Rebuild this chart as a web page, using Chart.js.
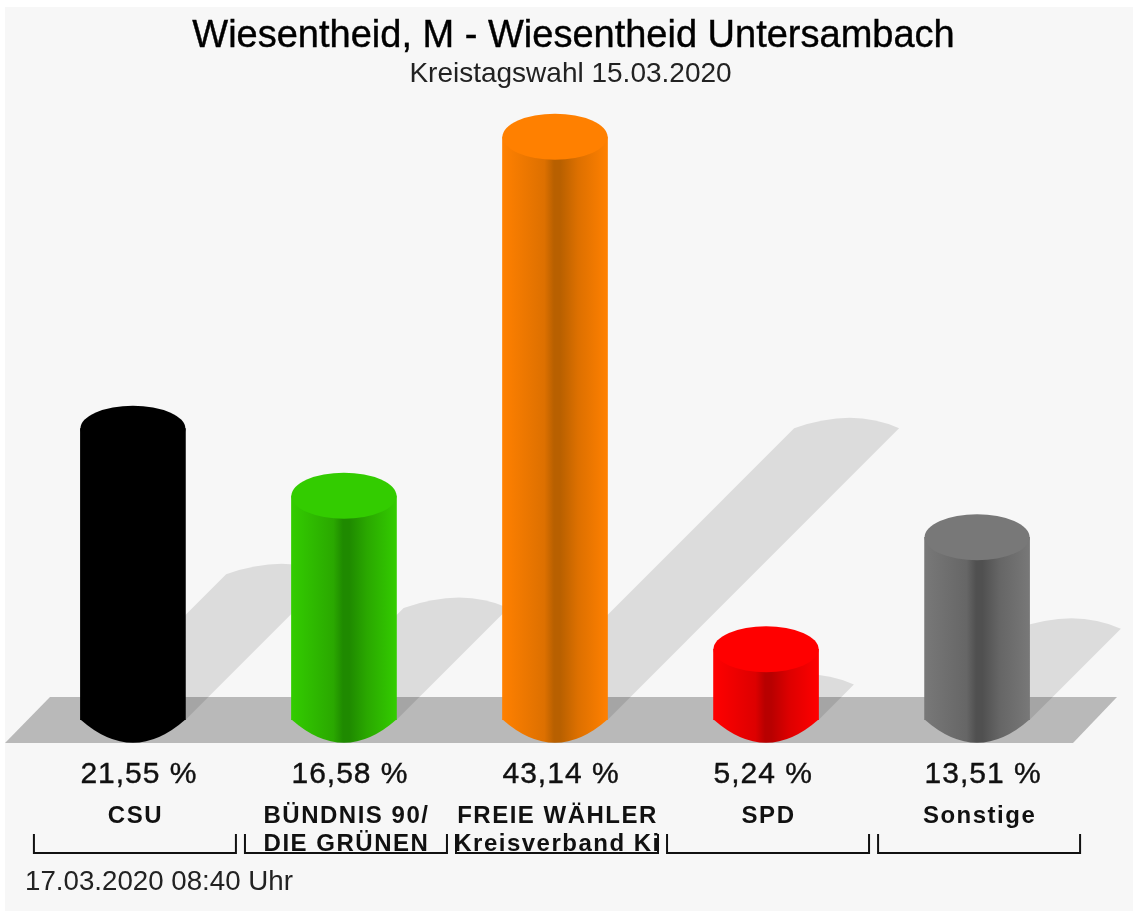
<!DOCTYPE html>
<html>
<head>
<meta charset="utf-8">
<title>Kreistagswahl</title>
<script src="https://cdn.jsdelivr.net/npm/chart.js@4"></script>
<style>
html, body { margin: 0; padding: 0; background: #ffffff; }
canvas { display: block; filter: blur(0.6px); }
</style>
</head>
<body>
<canvas id="wahlChart" width="1133" height="911"></canvas>
<script>
var parties = [["CSU"], ["BÜNDNIS 90/", "DIE GRÜNEN"], ["FREIE WÄHLER", "Kreisverband Ki"], ["SPD"], ["Sonstige"]];
var percents = [21.55, 16.58, 43.14, 5.24, 13.51];
var percentLabels = ["21,55 %", "16,58 %", "43,14 %", "5,24 %", "13,51 %"];
var barColors = ["#000000", "#33cc00", "#ff8000", "#ff0000", "#787878"];
var darkColors = ["#000000", "#1f8a00", "#b86000", "#b80000", "#505050"];
var midColors = ["#000000", "#2aa800", "#dd7000", "#dd0000", "#666666"];

var titleText = "Wiesentheid, M - Wiesentheid Untersambach";
var subtitleText = "Kreistagswahl 15.03.2020";
var dateText = "17.03.2020 08:40 Uhr";

var barWidth = 105;
var capHeight = 23;
var bracketHalf = 101;

function barFill(context) {
  var chart = context.chart;
  var i = context.dataIndex;
  var cx = chart.scales.x ? chart.scales.x.getPixelForValue(i) : NaN;
  if (!isFinite(cx)) return barColors[i];
  var g = chart.ctx.createLinearGradient(cx - barWidth / 2, 0, cx + barWidth / 2, 0);
  g.addColorStop(0, barColors[i]);
  g.addColorStop(0.4, midColors[i]);
  g.addColorStop(0.49, darkColors[i]);
  g.addColorStop(0.55, darkColors[i]);
  g.addColorStop(0.72, midColors[i]);
  g.addColorStop(1, barColors[i]);
  return g;
}

function putText(ctx, text, x, y, font, spacing, color, align, heavy) {
  ctx.save();
  ctx.font = font;
  ctx.letterSpacing = spacing + "px";
  ctx.fillStyle = color;
  ctx.textAlign = align;
  ctx.textBaseline = "middle";
  ctx.fillText(text, x, y);
  if (heavy) {
    ctx.strokeStyle = color;
    ctx.lineWidth = heavy;
    ctx.strokeText(text, x, y);
  }
  ctx.restore();
}

var cylinderPlugin = {
  id: "cylinder",
  beforeDraw: function (chart) {
    var ctx = chart.ctx;
    ctx.fillStyle = "#f7f7f7";
    ctx.fillRect(5, 7, 1128, 904);
    // ground
    ctx.fillStyle = "#b9b9b9";
    ctx.beginPath();
    ctx.moveTo(5, 743);
    ctx.lineTo(50, 697);
    ctx.lineTo(1117, 697);
    ctx.lineTo(1073, 743);
    ctx.closePath();
    ctx.fill();
    putText(ctx, titleText, 573.5, 37, "38px 'Liberation Sans'", 0, "#000000", "center", 0.4);
    putText(ctx, subtitleText, 570.5, 74, "28px 'Liberation Sans'", 0, "#222222", "center");
    putText(ctx, dateText, 25, 882, "27.7px 'Liberation Sans'", 0, "#222222", "left");
    ctx.letterSpacing = "1.5px";
  },
  beforeDatasetsDraw: function (chart) {
    var ctx = chart.ctx;
    var base = chart.scales.y.getPixelForValue(0);
    ctx.save();
    ctx.fillStyle = "rgba(0,0,0,0.105)";
    percents.forEach(function (v, i) {
      var cx = chart.scales.x.getPixelForValue(i);
      var h = (base - chart.scales.y.getPixelForValue(v)) / 2;
      ctx.beginPath();
      ctx.moveTo(cx - barWidth / 2, base);
      ctx.lineTo(cx - barWidth / 2 + h, base - h);
      ctx.quadraticCurveTo(cx + h + 6, base - h - 21, cx + barWidth / 2 + h, base - h);
      ctx.lineTo(cx + barWidth / 2, base);
      ctx.closePath();
      ctx.fill();
    });
    ctx.restore();
  },
  afterDatasetsDraw: function (chart) {
    var ctx = chart.ctx;
    var base = chart.scales.y.getPixelForValue(0);
    var meta = chart.getDatasetMeta(0);
    percents.forEach(function (v, i) {
      var bar = meta.data[i];
      // bottom of the cylinder comes to a flat curve with corners
      ctx.fillStyle = bar.options.backgroundColor;
      ctx.beginPath();
      ctx.moveTo(bar.x - barWidth / 2, base - 0.5);
      ctx.quadraticCurveTo(bar.x, base + 2 * capHeight, bar.x + barWidth / 2, base - 0.5);
      ctx.closePath();
      ctx.fill();
      ctx.fillStyle = barColors[i];
      ctx.beginPath();
      ctx.ellipse(bar.x, bar.y, barWidth / 2, capHeight, 0, 0, 2 * Math.PI);
      ctx.fill();
      putText(ctx, percentLabels[i], bar.x - barWidth / 2, 775, "30px 'Liberation Sans'", 1, "#111111", "left", 0.4);
      // bracket under each party
      var bx = bar.x + 2;
      ctx.strokeStyle = "#111111";
      ctx.lineWidth = 2;
      ctx.beginPath();
      ctx.moveTo(bx - bracketHalf, 834);
      ctx.lineTo(bx - bracketHalf, 853);
      ctx.lineTo(bx + bracketHalf, 853);
      ctx.lineTo(bx + bracketHalf, 834);
      ctx.stroke();
    });
  }
};

new Chart(document.getElementById("wahlChart"), {
  type: "bar",
  data: {
    labels: parties,
    datasets: [{
      data: percents,
      backgroundColor: barFill,
      barThickness: barWidth,
      borderWidth: 0
    }]
  },
  options: {
    responsive: false,
    animation: false,
    events: [],
    layout: { padding: { left: 27.4, right: 50.4, top: 111.6, bottom: 0 } },
    plugins: { legend: { display: false }, tooltip: { enabled: false } },
    scales: {
      x: {
        grid: { display: false, drawTicks: false },
        border: { display: false },
        afterFit: function (scale) { scale.height = 191; },
        ticks: {
          autoSkip: false,
          maxRotation: 0,
          padding: 82,
          labelOffset: 2.5,
          color: "#111111",
          font: { family: "'Liberation Sans'", size: 24, weight: "bold", lineHeight: 1.17 }
        }
      },
      y: { display: false, min: 0, max: 45 }
    }
  },
  plugins: [cylinderPlugin]
});
</script>
</body>
</html>
